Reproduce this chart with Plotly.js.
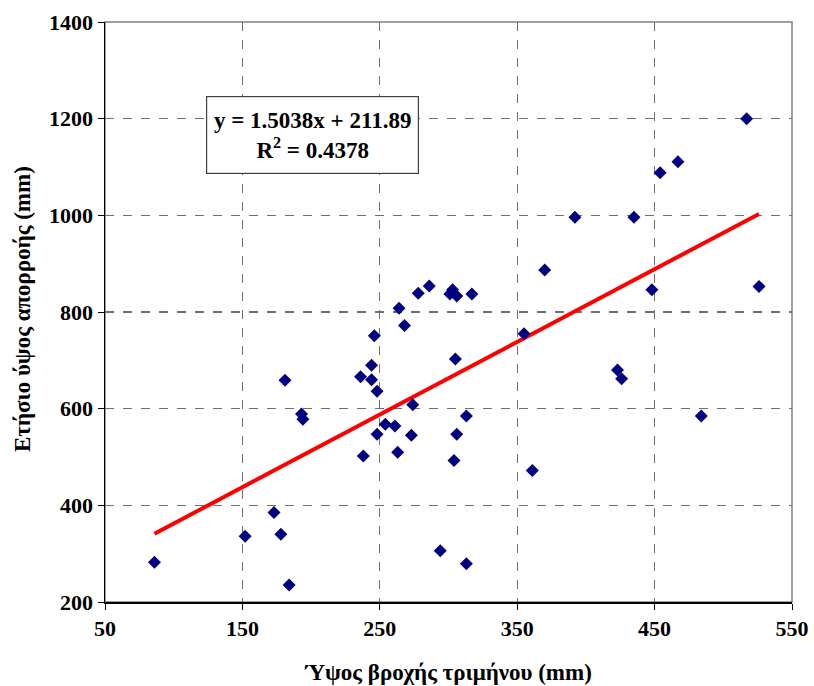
<!DOCTYPE html>
<html>
<head>
<meta charset="utf-8">
<script src="https://cdn.plot.ly/plotly-3.0.1.min.js"></script>
<style>html,body{margin:0;padding:0;background:#fff;}#chart{width:814px;height:686px;}</style>
</head>
<body>
<div id="chart"></div>
<script>
// Rainfall of the quarter (mm)
const rainfall = [86,152,173,178,181,184,193,194,236,244,244,246,248,238,248,254,261,263,273,274,
  264,268,278,286,303,301,306,317,305,306,304,313,294,313,355,361,423,426,484,448,526,370,392,435,454,467,517];
// Annual runoff depth (mm)
const runoff = [282,336,385,340,659,235,589,578,666,690,660,751,636,502,547,568,564,510,545,608,
  808,772,839,854,846,837,833,837,703,547,493,585,306,279,755,472,680,662,585,846,853,887,996,996,1088,1111,1200];
const slope = 1.5038;
const intercept = 211.89;
const r2 = 0.4378;
const xTicks = [50,150,250,350,450,550];
const yTicks = [200,400,600,800,1000,1200,1400];
const xTitle = 'Ύψος βροχής τριμήνου (mm)';
const yTitle = 'Ετήσιο ύψος απορροής (mm)';

const xMin = Math.min(...rainfall), xMax = Math.max(...rainfall);
const trendX = [xMin, xMax];
const trendY = trendX.map(v => slope * v + intercept);

const font = {family: '"Liberation Serif", "Times New Roman", serif', color: '#000'};

const data = [
  {x: trendX, y: trendY, type: 'scatter', mode: 'lines',
   line: {color: '#ff0000', width: 4}, hoverinfo: 'skip', showlegend: false},
  {x: rainfall, y: runoff, type: 'scatter', mode: 'markers',
   marker: {symbol: 'diamond', size: 10, color: '#000080'}, showlegend: false}
];

const layout = {
  width: 814, height: 686,
  margin: {l: 105, r: 22, t: 22, b: 84},
  paper_bgcolor: '#fff', plot_bgcolor: '#fff',
  font: Object.assign({size: 16}, font),
  xaxis: {
    range: [50, 550], tickvals: xTicks, ticktext: xTicks.map(v => '<b>' + v + '</b>'),
    showline: true, linecolor: '#000', linewidth: 1.5,
    ticks: 'outside', ticklen: 6, tickcolor: '#000',
    showgrid: true, gridcolor: '#707070', griddash: 'dash', gridwidth: 1.2,
    zeroline: false,
    tickfont: Object.assign({size: 22}, font),
    title: {text: '<b>' + xTitle + '</b>', font: Object.assign({size: 23}, font), standoff: 24}
  },
  yaxis: {
    range: [200, 1400], tickvals: yTicks, ticktext: yTicks.map(v => '<b>' + v + '</b>'),
    showline: true, linecolor: '#000', linewidth: 1.5,
    ticks: 'outside', ticklen: 6, tickcolor: '#000',
    showgrid: true, gridcolor: '#707070', griddash: 'dash', gridwidth: 1.2,
    zeroline: false,
    tickfont: Object.assign({size: 22}, font)
  },
  shapes: [
    {type: 'rect', xref: 'paper', yref: 'paper', x0: 0, x1: 1, y0: 0, y1: 1,
     line: {color: '#808080', width: 1.5}, layer: 'below'}
  ],
  annotations: [
    {xref: 'x', yref: 'y', x: 200.7, y: 1167, showarrow: false,
     text: '<b>y = ' + slope.toFixed(4) + 'x + ' + intercept.toFixed(2) + '</b><br><b>R<sup>2</sup> = ' + r2.toFixed(4) + '</b>',
     font: Object.assign({size: 23}, font), align: 'center',
     bgcolor: '#fff', bordercolor: '#404040', borderwidth: 1.2, borderpad: 2,
     width: 207, height: 72},
    {xref: 'paper', yref: 'paper', x: -0.121, y: 0.505, xanchor: 'center', yanchor: 'middle',
     showarrow: false, textangle: -90,
     text: '<b>' + yTitle + '</b>', font: Object.assign({size: 23}, font)}
  ]
};

Plotly.newPlot('chart', data, layout, {displayModeBar: false, staticPlot: true});
</script>
</body>
</html>
